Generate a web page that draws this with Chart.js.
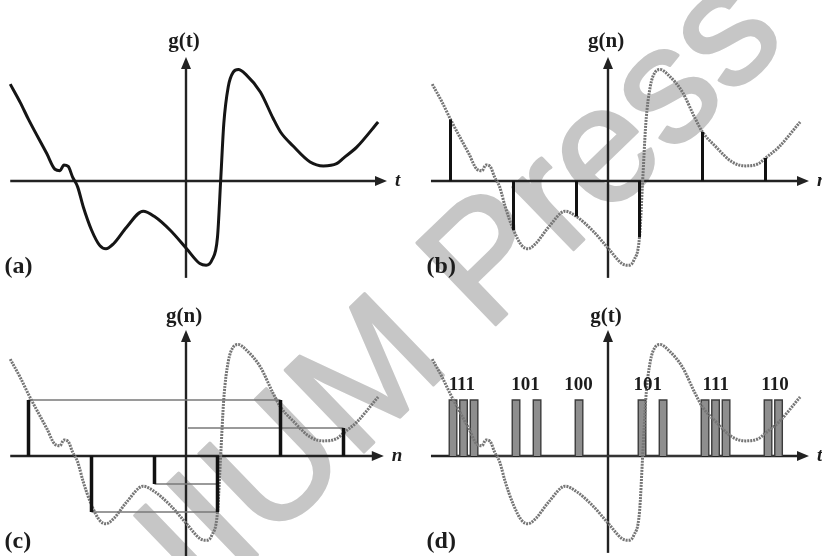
<!DOCTYPE html>
<html><head><meta charset="utf-8">
<script src="https://cdn.jsdelivr.net/npm/chart.js@4.4.1/dist/chart.umd.min.js"></script>
<style>html,body{margin:0;padding:0;background:#fff;overflow:hidden}#wrap{position:relative;width:822px;height:556px}</style>
</head><body><div id="wrap"><canvas id="c" width="822" height="556"></canvas></div>
<script>
// ---- data (t in sample periods, g in quantisation steps) ----
const curveT = [-2.79,-2.63,-2.50,-2.21,-2.08,-2.00,-1.94,-1.87,-1.80,-1.72,-1.63,-1.50,-1.37,-1.27,-1.15,-0.94,-0.68,-0.50,-0.25,0.01,0.22,0.32,0.41,0.50,0.55,0.60,0.67,0.75,0.83,0.96,1.18,1.38,1.50,1.70,1.97,2.18,2.39,2.50,2.71,3.05];
const curveG = [3.46,2.80,2.20,0.98,0.42,0.37,0.57,0.52,0.14,-0.21,-0.93,-1.75,-2.30,-2.42,-2.24,-1.64,-1.08,-1.27,-1.76,-2.42,-2.95,-3.01,-2.83,-2.00,0.00,2.05,3.36,3.89,3.98,3.78,3.18,2.25,1.75,1.25,0.68,0.54,0.62,0.82,1.21,2.11];
const sampleN = [-2.5,-1.5,-0.5,0.5,1.5,2.5];
const sampleG = [2.20,-1.75,-1.27,-2.00,1.75,0.82];
const quantG = [2,-2,-1,-2,2,1];
const codes = ['111','101','100','101','111','110'];
const codeLabelN = [-2.32,-1.31,-0.47,0.63,1.71,2.65];
const guideLevel = [2,1,-1,-2];
const guideFrom = [-2.5,0.03,-0.5,-1.5];
const guideTo = [1.5,2.5,0.5,0.5];
const pulseHigh = 2;
const panelTags = ['(a)','(b)','(c)','(d)'];
const yTitles = ['g(t)','g(n)','g(n)','g(t)'];
const xTitles = ['t','n','n','t'];
const watermark = 'IIUM Press';

// ---- layout ----
const W = 822, H = 556, UX = 63, UY = 28;
const origins = [[186,181],[608,181],[186,456],[608,456]];
const ids = ['a','b','c','d'];
const axisExt = [ {l:-2.79,r:3.19,t:4.43,b:-3.46}, {l:-2.81,r:3.19,t:4.43,b:-3.46},
                  {l:-2.79,r:3.14,t:4.50,b:-3.60}, {l:-2.81,r:3.19,t:4.50,b:-3.46} ];
const SLOT0 = 0.04, SLOT = 0.167, PW = 0.06;

const scales = {};
origins.forEach(([ox,oy],i)=>{
  scales['x'+ids[i]] = {type:'linear', display:false, min:-ox/UX, max:(W-ox)/UX};
  scales['y'+ids[i]] = {type:'linear', display:false, min:(oy-H)/UY, max:oy/UY};
});

const curvePts = curveT.map((t,i)=>({x:t,y:curveG[i]}));
function stems(vals){ const d=[]; sampleN.forEach((n,i)=>{ d.push({x:n,y:0},{x:n,y:vals[i]},{x:n,y:null}); }); return d; }
const guides = []; guideLevel.forEach((L,i)=>{ guides.push({x:guideFrom[i],y:L},{x:guideTo[i],y:L},{x:guideTo[i],y:null}); });
const pulses = [];
sampleN.forEach((n,i)=>{ codes[i].split('').forEach((b,k)=>{ if(b==='1'){ const c=n+SLOT0+k*SLOT;
  pulses.push({x:c-PW,y:0},{x:c-PW,y:pulseHigh},{x:c+PW,y:pulseHigh},{x:c+PW,y:0}); } }); });

const dotted = {borderColor:'#767676', borderWidth:3, borderDash:[2,1], pointRadius:0, cubicInterpolationMode:'monotone', fill:false};
const datasets = [
  {data:curvePts, xAxisID:'xa', yAxisID:'ya', borderColor:'#151515', borderWidth:3, pointRadius:0, cubicInterpolationMode:'monotone', fill:false, order:2},
  Object.assign({data:curvePts, xAxisID:'xb', yAxisID:'yb', order:2}, dotted),
  {data:stems(sampleG), xAxisID:'xb', yAxisID:'yb', borderColor:'#111', borderWidth:3, pointRadius:0, tension:0, spanGaps:false, fill:false, order:1},
  {data:guides, xAxisID:'xc', yAxisID:'yc', borderColor:'#7a7a7a', borderWidth:1.6, pointRadius:0, tension:0, spanGaps:false, fill:false, order:3},
  Object.assign({data:curvePts, xAxisID:'xc', yAxisID:'yc', order:2}, dotted),
  {data:stems(quantG), xAxisID:'xc', yAxisID:'yc', borderColor:'#111', borderWidth:3.5, pointRadius:0, tension:0, spanGaps:false, fill:false, order:1},
  {data:pulses, xAxisID:'xd', yAxisID:'yd', borderColor:'#3c3c3c', borderWidth:1.4, backgroundColor:'#8e8e8e', pointRadius:0, tension:0, fill:'origin', order:3},
  Object.assign({data:curvePts, xAxisID:'xd', yAxisID:'yd', order:2}, dotted)
];

const axesPlugin = {
  id:'axesPlugin',
  beforeDatasetsDraw(chart){
    const ctx = chart.ctx;
    ids.forEach((id,i)=>{
      const xs = chart.scales['x'+id], ys = chart.scales['y'+id], e = axisExt[i];
      const x0 = xs.getPixelForValue(0), y0 = ys.getPixelForValue(0);
      const xl = xs.getPixelForValue(e.l), xr = xs.getPixelForValue(e.r);
      const yt = ys.getPixelForValue(e.t), yb = ys.getPixelForValue(e.b);
      ctx.save(); ctx.strokeStyle='#222'; ctx.fillStyle='#222'; ctx.lineWidth=2.4;
      ctx.beginPath(); ctx.moveTo(xl,y0); ctx.lineTo(xr-8,y0); ctx.stroke();
      ctx.beginPath(); ctx.moveTo(xr,y0); ctx.lineTo(xr-12,y0-5); ctx.lineTo(xr-12,y0+5); ctx.closePath(); ctx.fill();
      ctx.beginPath(); ctx.moveTo(x0,yb); ctx.lineTo(x0,yt+8); ctx.stroke();
      ctx.beginPath(); ctx.moveTo(x0,yt); ctx.lineTo(x0-5,yt+12); ctx.lineTo(x0+5,yt+12); ctx.closePath(); ctx.fill();
      ctx.restore();
    });
  },
  afterDraw(chart){
    const ctx = chart.ctx;
    ids.forEach((id,i)=>{
      const xs = chart.scales['x'+id], ys = chart.scales['y'+id], e = axisExt[i];
      ctx.save(); ctx.fillStyle='#1c1c1c'; ctx.textBaseline='middle';
      ctx.font='bold 21px "Liberation Serif"'; ctx.textAlign='center';
      ctx.fillText(yTitles[i], xs.getPixelForValue(-0.03), ys.getPixelForValue(4.97));
      ctx.font='bold italic 19px "Liberation Serif"'; ctx.textAlign='left';
      ctx.fillText(xTitles[i], xs.getPixelForValue(e.r)+8, ys.getPixelForValue(0));
      ctx.font='bold 24px "Liberation Serif"';
      ctx.fillText(panelTags[i], xs.getPixelForValue(-2.88), ys.getPixelForValue(-3.05));
      if(id==='d'){
        ctx.font='bold 19px "Liberation Serif"'; ctx.textAlign='center';
        codes.forEach((c,k)=>ctx.fillText(c, xs.getPixelForValue(codeLabelN[k]), ys.getPixelForValue(2.52)));
      }
      ctx.restore();
    });
    // watermark
    ctx.save();
    ctx.globalCompositeOperation='darken';
    ctx.translate(455,282); ctx.rotate(-44*Math.PI/180);
    ctx.font='165px "Liberation Sans"'; ctx.fillStyle='#c6c6c6'; ctx.strokeStyle='#c6c6c6';
    ctx.lineWidth=3; ctx.lineJoin='round';
    ctx.textAlign='center'; ctx.textBaseline='alphabetic';
    ctx.fillText(watermark, 0, 59);
    ctx.strokeText(watermark, 0, 59);
    ctx.restore();
  }
};

new Chart(document.getElementById('c'), {
  type:'line',
  data:{datasets},
  options:{responsive:false, animation:false, events:[], layout:{padding:0},
    plugins:{legend:{display:false}, tooltip:{enabled:false}},
    scales},
  plugins:[axesPlugin]
});
</script></body></html>
